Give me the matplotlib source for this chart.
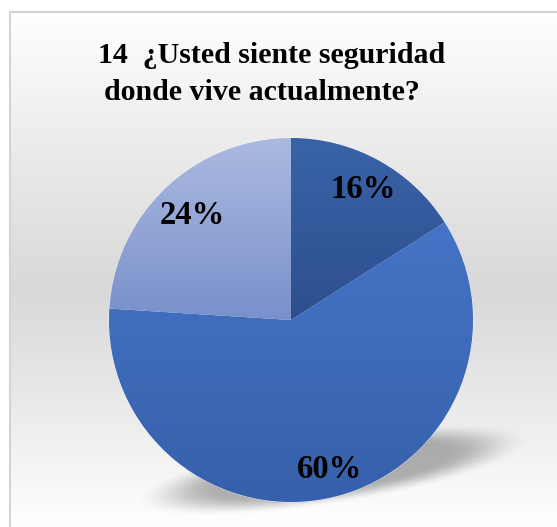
import numpy as np
import matplotlib
matplotlib.use("Agg")
import matplotlib.pyplot as plt
from matplotlib.colors import to_rgb

# ---- data ----
title_lines = ["14  \u00bfUsted siente seguridad", "donde vive actualmente?"]
categories = ["S\u00ed", "No", "A veces"]
values = [16, 60, 24]
slice_top_colors = ["#3963A8", "#4574C6", "#ABBAE0"]
slice_bottom_colors = ["#2D4F8E", "#3660AB", "#7990CB"]
label_radial = [0.82, 0.85, 0.79]

W, H = 557, 527
fig = plt.figure(figsize=(W / 100, H / 100), dpi=100)
ax = fig.add_axes([0, 0, 1, 1])
ax.set_xlim(0, W)
ax.set_ylim(0, H)
ax.set_aspect("equal")
ax.axis("off")

# ---- background gradient (inside frame) ----
ys = np.linspace(0, 1, 300)  # 0 bottom -> 1 top of frame
frame_top = H - 12
frame_left = 9.5
peak = (H - 290) / frame_top
vals = np.where(ys < peak, 1 - (ys / peak), (ys - peak) / (1 - peak))
grey = 0xd9 / 255 + (1 - 0xd9 / 255) * np.clip(vals, 0, 1) ** 1.1
img = np.dstack([grey, grey, grey]).reshape(300, 1, 3)
ax.imshow(img, extent=[frame_left, W, 0, frame_top], origin="lower",
          aspect="auto", zorder=0, interpolation="bilinear")
ax.plot([frame_left, frame_left, W], [0, frame_top, frame_top],
        color="#d4d4d4", lw=1.5, zorder=1, solid_capstyle="butt")

# ---- pie geometry ----
cx, cy, R = 291, H - 320, 182

# ---- shadow ----
sx, sy = 333, H - 470
gx = np.linspace(100, 557, 460)
gy = np.linspace(H - 540, H - 380, 160)
GX, GY = np.meshgrid(gx, gy)
ang = np.deg2rad(9)
dx, dy = GX - sx, GY - sy
u = dx * np.cos(ang) + dy * np.sin(ang)
v = -dx * np.sin(ang) + dy * np.cos(ang)
d = np.sqrt((u / 176) ** 2 + (v / 30) ** 2)
s = np.clip((1.15 - d) / 0.5, 0, 1)
s = s * s * (3 - 2 * s)
sh = np.zeros(GX.shape + (4,))
sh[..., :3] = 0.45
sh[..., 3] = s * 0.55
ax.imshow(sh, extent=[gx[0], gx[-1], gy[0], gy[-1]], origin="lower",
          aspect="auto", zorder=2, interpolation="bilinear")

# ---- pie ----
wedges, texts, autotexts = ax.pie(
    values, center=(cx, cy), radius=R, startangle=90, counterclock=False,
    colors=slice_top_colors, autopct="%.0f%%", pctdistance=0.82,
    wedgeprops=dict(edgecolor="white", linewidth=0.5),
    textprops=dict(fontsize=23.5, fontweight="bold", family="Liberation Serif", color="black"),
    frame=True,
)
ax.set_xlim(0, W)
ax.set_ylim(0, H)
ax.axis("off")

inv = ax.transData.inverted()
for w, top, bot in zip(wedges, slice_top_colors, slice_bottom_colors):
    w.set_zorder(3)
    bb = w.get_path().get_extents(w.get_transform())
    (x0, y0), (x1, y1) = inv.transform([[bb.x0, bb.y0], [bb.x1, bb.y1]])
    t = np.linspace(0, 1, 200)[:, None]
    c0, c1 = np.array(to_rgb(bot)), np.array(to_rgb(top))
    g = (c0 * (1 - t) + c1 * t)[:, None, :]
    im = ax.imshow(g, extent=[x0, x1, y0, y1], origin="lower", aspect="auto",
                   zorder=3.5, interpolation="bilinear")
    im.set_clip_path(w)

for w, at, f in zip(wedges, autotexts, label_radial):
    mid = np.deg2rad((w.theta1 + w.theta2) / 2)
    at.set_position((cx + f * R * np.cos(mid), cy + f * R * np.sin(mid)))
    at.set_zorder(5)

# ---- title ----
ax.text(272, H - 63, title_lines[0], ha="center", va="baseline",
        fontsize=21.5, fontweight="bold", family="Liberation Serif", zorder=5)
ax.text(262, H - 100, title_lines[1], ha="center", va="baseline",
        fontsize=21.5, fontweight="bold", family="Liberation Serif", zorder=5)

fig.savefig("out.png", dpi=100)
